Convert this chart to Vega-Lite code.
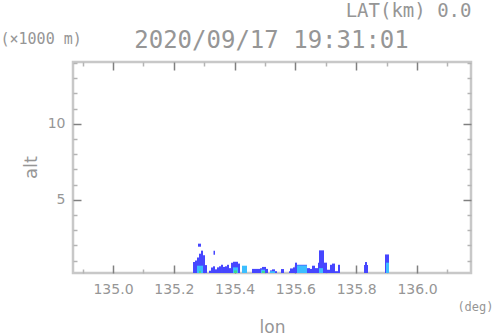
{
  "$schema": "https://vega.github.io/schema/vega-lite/v6.json",
  "width": 398,
  "height": 211,
  "autosize": "none",
  "padding": {"left": 73, "top": 62, "right": 27, "bottom": 63},
  "background": "white",
  "config": {
    "view": {"stroke": "#c8c8c8", "strokeWidth": 2.5},
    "axis": {"grid": false, "domain": false, "labelColor": "#969696", "titleColor": "#969696", "titleFontWeight": "normal"}
  },
  "data": {"values": [
    {"lon0":135.2632,"lon1":135.2697,"alt0":0.18,"alt1":0.90,"lev":"b"},
    {"lon0":135.2697,"lon1":135.2763,"alt0":0.18,"alt1":1.0,"lev":"b"},
    {"lon0":135.2763,"lon1":135.2829,"alt0":0.18,"alt1":1.2,"lev":"b"},
    {"lon0":135.2829,"lon1":135.2895,"alt0":0.18,"alt1":1.45,"lev":"b"},
    {"lon0":135.2895,"lon1":135.2961,"alt0":0.18,"alt1":1.65,"lev":"b"},
    {"lon0":135.2961,"lon1":135.3026,"alt0":0.18,"alt1":1.35,"lev":"b"},
    {"lon0":135.3026,"lon1":135.3092,"alt0":0.18,"alt1":0.7,"lev":"b"},
    {"lon0":135.2796,"lon1":135.2895,"alt0":1.91,"alt1":2.11,"lev":"b"},
    {"lon0":135.3306,"lon1":135.3355,"alt0":1.38,"alt1":1.65,"lev":"b"},
    {"lon0":135.3158,"lon1":135.3224,"alt0":0.18,"alt1":0.33,"lev":"b"},
    {"lon0":135.3224,"lon1":135.3289,"alt0":0.18,"alt1":0.55,"lev":"b"},
    {"lon0":135.3289,"lon1":135.3355,"alt0":0.18,"alt1":0.62,"lev":"b"},
    {"lon0":135.3355,"lon1":135.3421,"alt0":0.18,"alt1":0.42,"lev":"b"},
    {"lon0":135.3421,"lon1":135.3487,"alt0":0.18,"alt1":0.55,"lev":"b"},
    {"lon0":135.3487,"lon1":135.3553,"alt0":0.18,"alt1":0.62,"lev":"b"},
    {"lon0":135.3553,"lon1":135.3618,"alt0":0.18,"alt1":0.72,"lev":"b"},
    {"lon0":135.3618,"lon1":135.3684,"alt0":0.18,"alt1":0.58,"lev":"b"},
    {"lon0":135.3684,"lon1":135.375,"alt0":0.18,"alt1":0.62,"lev":"b"},
    {"lon0":135.375,"lon1":135.3816,"alt0":0.18,"alt1":0.72,"lev":"b"},
    {"lon0":135.3816,"lon1":135.3882,"alt0":0.18,"alt1":0.5,"lev":"b"},
    {"lon0":135.3882,"lon1":135.3947,"alt0":0.18,"alt1":0.85,"lev":"b"},
    {"lon0":135.3947,"lon1":135.4112,"alt0":0.18,"alt1":0.92,"lev":"b"},
    {"lon0":135.4112,"lon1":135.4178,"alt0":0.18,"alt1":0.8,"lev":"b"},
    {"lon0":135.4572,"lon1":135.4836,"alt0":0.18,"alt1":0.45,"lev":"b"},
    {"lon0":135.4836,"lon1":135.4901,"alt0":0.18,"alt1":0.5,"lev":"b"},
    {"lon0":135.4901,"lon1":135.5033,"alt0":0.18,"alt1":0.58,"lev":"b"},
    {"lon0":135.5033,"lon1":135.5099,"alt0":0.18,"alt1":0.45,"lev":"b"},
    {"lon0":135.5164,"lon1":135.523,"alt0":0.18,"alt1":0.35,"lev":"b"},
    {"lon0":135.523,"lon1":135.5329,"alt0":0.18,"alt1":0.42,"lev":"b"},
    {"lon0":135.5329,"lon1":135.5395,"alt0":0.18,"alt1":0.3,"lev":"b"},
    {"lon0":135.5526,"lon1":135.5625,"alt0":0.18,"alt1":0.44,"lev":"b"},
    {"lon0":135.5789,"lon1":135.5822,"alt0":0.18,"alt1":0.3,"lev":"b"},
    {"lon0":135.5822,"lon1":135.5921,"alt0":0.18,"alt1":0.48,"lev":"b"},
    {"lon0":135.5921,"lon1":135.5987,"alt0":0.18,"alt1":0.55,"lev":"b"},
    {"lon0":135.5987,"lon1":135.6053,"alt0":0.18,"alt1":0.86,"lev":"b"},
    {"lon0":135.6053,"lon1":135.6382,"alt0":0.18,"alt1":0.72,"lev":"b"},
    {"lon0":135.6382,"lon1":135.648,"alt0":0.18,"alt1":0.5,"lev":"b"},
    {"lon0":135.648,"lon1":135.6546,"alt0":0.18,"alt1":0.45,"lev":"b"},
    {"lon0":135.6546,"lon1":135.6645,"alt0":0.18,"alt1":0.66,"lev":"b"},
    {"lon0":135.6645,"lon1":135.6743,"alt0":0.18,"alt1":0.5,"lev":"b"},
    {"lon0":135.6743,"lon1":135.6776,"alt0":0.18,"alt1":0.86,"lev":"b"},
    {"lon0":135.6776,"lon1":135.6941,"alt0":0.18,"alt1":1.67,"lev":"b"},
    {"lon0":135.6941,"lon1":135.7039,"alt0":0.18,"alt1":0.86,"lev":"b"},
    {"lon0":135.7039,"lon1":135.7138,"alt0":0.18,"alt1":0.4,"lev":"b"},
    {"lon0":135.7138,"lon1":135.7204,"alt0":0.18,"alt1":0.72,"lev":"b"},
    {"lon0":135.7204,"lon1":135.7303,"alt0":0.18,"alt1":0.8,"lev":"b"},
    {"lon0":135.7303,"lon1":135.7401,"alt0":0.18,"alt1":0.3,"lev":"b"},
    {"lon0":135.7401,"lon1":135.7467,"alt0":0.18,"alt1":0.72,"lev":"b"},
    {"lon0":135.8257,"lon1":135.8289,"alt0":0.18,"alt1":0.7,"lev":"b"},
    {"lon0":135.8289,"lon1":135.8355,"alt0":0.18,"alt1":0.9,"lev":"b"},
    {"lon0":135.8355,"lon1":135.8388,"alt0":0.18,"alt1":0.7,"lev":"b"},
    {"lon0":135.8947,"lon1":135.9079,"alt0":0.18,"alt1":1.4,"lev":"b"},
    {"lon0":135.2763,"lon1":135.2961,"alt0":0.18,"alt1":0.66,"lev":"c"},
    {"lon0":135.3947,"lon1":135.4112,"alt0":0.18,"alt1":0.55,"lev":"c"},
    {"lon0":135.4243,"lon1":135.4408,"alt0":0.18,"alt1":0.66,"lev":"c"},
    {"lon0":135.4868,"lon1":135.5,"alt0":0.18,"alt1":0.4,"lev":"c"},
    {"lon0":135.5164,"lon1":135.5329,"alt0":0.18,"alt1":0.3,"lev":"c"},
    {"lon0":135.6053,"lon1":135.6382,"alt0":0.18,"alt1":0.68,"lev":"c"},
    {"lon0":135.6776,"lon1":135.6908,"alt0":0.18,"alt1":0.5,"lev":"c"},
    {"lon0":135.898,"lon1":135.9079,"alt0":0.18,"alt1":0.86,"lev":"c"},
    {"lon0":135.2829,"lon1":135.2895,"alt0":0.18,"alt1":0.33,"lev":"g"},
    {"lon0":135.398,"lon1":135.4079,"alt0":0.18,"alt1":0.35,"lev":"g"},
    {"lon0":135.4901,"lon1":135.5,"alt0":0.18,"alt1":0.3,"lev":"g"}
  ]},
  "resolve": {"axis": {"x": "independent", "y": "independent"}},
  "layer": [
    {
      "mark": {"type": "rect", "clip": true},
      "encoding": {
        "x": {"field": "lon0", "type": "quantitative",
          "scale": {"domain": [134.8684, 136.1776], "nice": false, "zero": false},
          "axis": {
            "orient": "bottom",
            "values": [134.9, 135.0, 135.1, 135.2, 135.3, 135.4, 135.5, 135.6, 135.7, 135.8, 135.9, 136.0, 136.1],
            "format": ".1f",
            "labelExpr": "abs(datum.value*5 - round(datum.value*5)) < 0.01 ? datum.label : ''",
            "labelOverlap": false, "labelFlush": false,
            "labelFont": "DejaVu Sans", "labelFontSize": 14, "labelPadding": 17,
            "tickSize": {"condition": {"test": "abs(datum.value*5 - round(datum.value*5)) < 0.01", "value": -8}, "value": -4},
            "tickColor": {"condition": {"test": "abs(datum.value*5 - round(datum.value*5)) < 0.01", "value": "#808080"}, "value": "#b4b4b4"},
            "tickWidth": 1.5,
            "title": "lon", "titleFont": "DejaVu Sans", "titleFontSize": 17,
            "titleX": 199, "titleY": 59, "titleAlign": "center", "titleBaseline": "alphabetic"
          }
        },
        "x2": {"field": "lon1"},
        "y": {"field": "alt0", "type": "quantitative",
          "scale": {"domain": [0.18, 14.06], "nice": false, "zero": false},
          "axis": {
            "orient": "left",
            "values": [1, 2, 3, 4, 5, 6, 7, 8, 9, 10, 11, 12, 13, 14],
            "format": "d",
            "labelExpr": "datum.value % 5 == 0 ? datum.label : ''",
            "labelOverlap": false, "labelFlush": false,
            "labelFont": "DejaVu Sans", "labelFontSize": 14, "labelPadding": 16,
            "tickSize": {"condition": {"test": "datum.value % 5 == 0", "value": -8}, "value": -4},
            "tickColor": {"condition": {"test": "datum.value % 5 == 0", "value": "#808080"}, "value": "#b4b4b4"},
            "tickWidth": 1.5,
            "title": "alt", "titleFont": "DejaVu Sans", "titleFontSize": 18, "titleAngle": 270,
            "titleX": -37, "titleY": 105, "titleAlign": "center", "titleBaseline": "alphabetic"
          }
        },
        "y2": {"field": "alt1"},
        "color": {"field": "lev", "type": "nominal", "legend": null,
          "scale": {"domain": ["b", "c", "g"], "range": ["#4646ff", "#3cbeff", "#3cdc8c"]}}
      }
    },
    {
      "mark": {"type": "rect", "opacity": 0},
      "encoding": {
        "x": {"field": "lon0", "type": "quantitative",
          "axis": {
            "orient": "top",
            "values": [134.9, 135.0, 135.1, 135.2, 135.3, 135.4, 135.5, 135.6, 135.7, 135.8, 135.9, 136.0, 136.1],
            "labels": false,
            "tickSize": {"condition": {"test": "abs(datum.value*5 - round(datum.value*5)) < 0.01", "value": -8}, "value": -4},
            "tickColor": {"condition": {"test": "abs(datum.value*5 - round(datum.value*5)) < 0.01", "value": "#808080"}, "value": "#b4b4b4"},
            "tickWidth": 1.5,
            "title": "2020/09/17 19:31:01", "titleFont": "DejaVu Sans Mono", "titleFontSize": 24,
            "titleX": 198, "titleY": -15, "titleAlign": "center", "titleBaseline": "alphabetic"
          }
        },
        "x2": {"field": "lon1"},
        "y": {"field": "alt0", "type": "quantitative",
          "axis": {
            "orient": "right",
            "values": [1, 2, 3, 4, 5, 6, 7, 8, 9, 10, 11, 12, 13, 14],
            "labels": false,
            "tickSize": {"condition": {"test": "datum.value % 5 == 0", "value": -8}, "value": -4},
            "tickColor": {"condition": {"test": "datum.value % 5 == 0", "value": "#808080"}, "value": "#b4b4b4"},
            "tickWidth": 1.5,
            "title": "LAT(km) 0.0", "titleFont": "DejaVu Sans Mono", "titleFontSize": 19, "titleAngle": 0,
            "titleX": 0, "titleY": -46, "titleAlign": "right", "titleBaseline": "alphabetic"
          }
        },
        "y2": {"field": "alt1"}
      }
    },
    {
      "mark": {"type": "rect", "opacity": 0},
      "encoding": {
        "x": {"field": "lon0", "type": "quantitative",
          "axis": {
            "orient": "bottom", "ticks": false, "labels": false,
            "title": "(deg)", "titleFont": "DejaVu Sans Mono", "titleFontSize": 12,
            "titleX": 420, "titleY": 37, "titleAlign": "right", "titleBaseline": "alphabetic"
          }
        },
        "x2": {"field": "lon1"},
        "y": {"field": "alt0", "type": "quantitative",
          "axis": {
            "orient": "left", "ticks": false, "labels": false,
            "title": "(×1000 m)", "titleFont": "DejaVu Sans Mono", "titleFontSize": 15, "titleAngle": 0,
            "titleX": -73, "titleY": -19, "titleAlign": "left", "titleBaseline": "alphabetic"
          }
        },
        "y2": {"field": "alt1"}
      }
    }
  ]
}
